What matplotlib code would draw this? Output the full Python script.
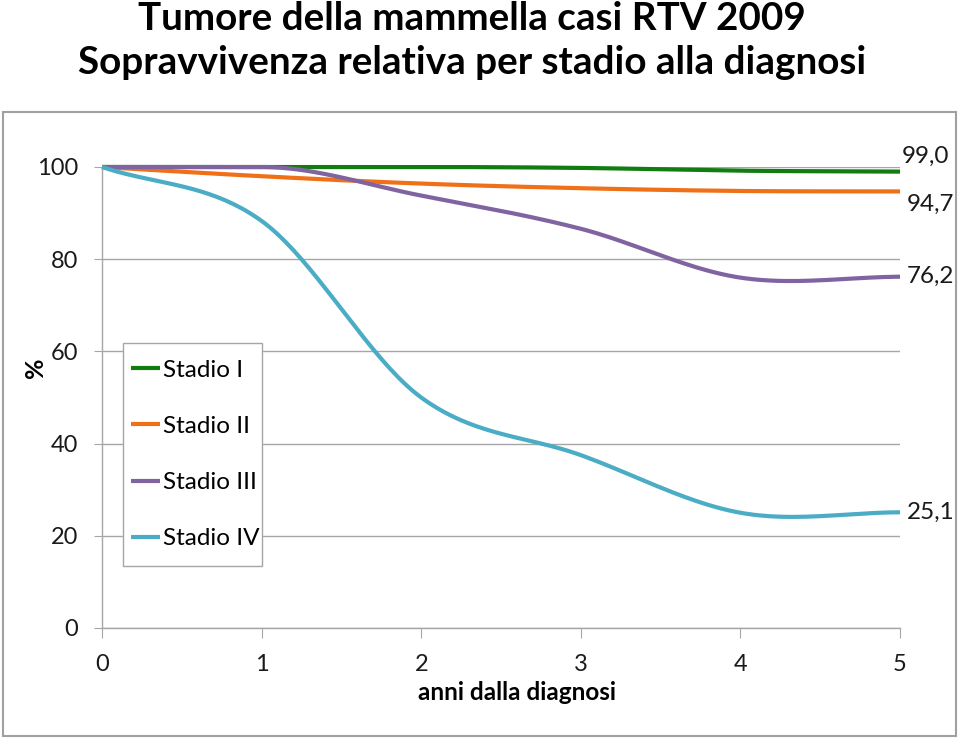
import numpy as np
import matplotlib
matplotlib.use("Agg")
import matplotlib.pyplot as plt
from matplotlib.patches import Rectangle

plt.rcParams['font.family'] = ['Lato', 'DejaVu Sans']

anni = [0, 1, 2, 3, 4, 5]
serie = ["Stadio I", "Stadio II", "Stadio III", "Stadio IV"]
stadio_1 = [100, 100, 100, 99.8, 99.2, 99.0]
stadio_2 = [100, 98.0, 96.4, 95.4, 94.8, 94.7]
stadio_3 = [100, 100, 93.8, 86.6, 76.0, 76.2]
stadio_4 = [100, 88.3, 50.0, 37.5, 25.0, 25.1]
valori = [stadio_1, stadio_2, stadio_3, stadio_4]
etichette_finali = ["99,0", "94,7", "76,2", "25,1"]
colori = ["#117d11", "#f07018", "#8064a2", "#4bacc6"]
y_ticks = [0, 20, 40, 60, 80, 100]
x_ticks = [0, 1, 2, 3, 4, 5]


def smooth(x, y, n=40):
    # Excel-style smoothing (cubic Bezier through the points)
    x = np.asarray(x, float)
    y = np.asarray(y, float)
    k = len(x)
    mx = np.zeros(k)
    my = np.zeros(k)
    for i in range(k):
        a = max(i - 1, 0)
        b = min(i + 1, k - 1)
        mx[i] = (x[b] - x[a]) / (b - a)
        my[i] = (y[b] - y[a]) / (b - a)
        if 0 < i < k - 1 and (y[i] == y[i - 1] or y[i] == y[i + 1]):
            my[i] = 0.0
    xs, ys = [], []
    for i in range(k - 1):
        t = np.linspace(0, 1, n, endpoint=(i == k - 2))
        p0x, p3x = x[i], x[i + 1]
        p0y, p3y = y[i], y[i + 1]
        p1x, p1y = p0x + mx[i] / 3, p0y + my[i] / 3
        p2x, p2y = p3x - mx[i + 1] / 3, p3y - my[i + 1] / 3
        bx = (1 - t) ** 3 * p0x + 3 * (1 - t) ** 2 * t * p1x + 3 * (1 - t) * t ** 2 * p2x + t ** 3 * p3x
        by = (1 - t) ** 3 * p0y + 3 * (1 - t) ** 2 * t * p1y + 3 * (1 - t) * t ** 2 * p2y + t ** 3 * p3y
        xs.append(bx)
        ys.append(by)
    return np.concatenate(xs), np.concatenate(ys)


fig = plt.figure(figsize=(9.6, 7.38), dpi=100)
ax = fig.add_axes([102 / 960, 1 - 628 / 738, 798 / 960, 461 / 738])

for i, (nome, vals, col) in enumerate(zip(serie, valori, colori)):
    sx, sy = smooth(anni, vals)
    ax.plot(sx, sy, color=col, lw=3.0, label=nome, clip_on=False, zorder=3,
            solid_capstyle='butt')

# end labels
offs = [(0.01, 1.0, 'bottom'), (0.04, -0.6, 'top'), (0.04, 0, 'center'), (0.04, 0, 'center')]
for vals, lab, (dx, dy, va) in zip(valori, etichette_finali, offs):
    ax.text(anni[-1] + dx, vals[-1] + dy, lab, fontsize=17.5, va=va, ha='left',
            color='#1a1a1a', clip_on=False)

ax.set_xlim(0, 5)
ax.set_ylim(0, 100)
ax.set_yticks(y_ticks)
ax.set_xticks(x_ticks)
ax.grid(axis='y', color='#a6a6a6', lw=1.0)
ax.set_axisbelow(True)
for s in ['top', 'right']:
    ax.spines[s].set_visible(False)
for s in ['left', 'bottom']:
    ax.spines[s].set_color('#a6a6a6')
    ax.spines[s].set_linewidth(1.0)
ax.tick_params(axis='y', length=6, color='#a6a6a6', labelsize=17, pad=11, labelcolor='#1a1a1a')
ax.tick_params(axis='x', length=7, color='#a6a6a6', labelsize=17, pad=12, labelcolor='#1a1a1a')

fig.text(517 / 960, 1 - 692 / 738, "anni dalla diagnosi", fontsize=17.5,
         fontweight='bold', ha='center', va='center')
fig.text(35 / 960, 1 - 368 / 738, "%", fontsize=18, fontweight='bold', rotation=90,
         ha='center', va='center')

# legend: frame drawn separately to match the padding
box = Rectangle((123 / 960, 1 - 566 / 738), 139 / 960, 223 / 738,
                transform=fig.transFigure, facecolor='white', edgecolor='#a6a6a6',
                lw=1.0, zorder=4, clip_on=False)
ax.add_patch(box)
leg = ax.legend(loc='center left', bbox_to_anchor=(29 / 798, (628 - 454.5) / 461),
                frameon=False, fontsize=17.5, handlelength=1.2,
                handletextpad=0.1, labelspacing=1.45, borderpad=0.0,
                borderaxespad=0)
leg.set_zorder(5)

fig.text(472 / 960, 1 - 18 / 738, "Tumore della mammella casi RTV 2009",
         fontsize=27.8, fontweight='bold', ha='center', va='center')
fig.text(472 / 960, 1 - 62 / 738, "Sopravvivenza relativa per stadio alla diagnosi",
         fontsize=27.8, fontweight='bold', ha='center', va='center')

fig.patches.append(Rectangle((3 / 960, 2 / 738), 953 / 960, 624 / 738,
                             transform=fig.transFigure, fill=False,
                             edgecolor='#a0a0a0', lw=1.5))

fig.savefig("out.png", dpi=100)
